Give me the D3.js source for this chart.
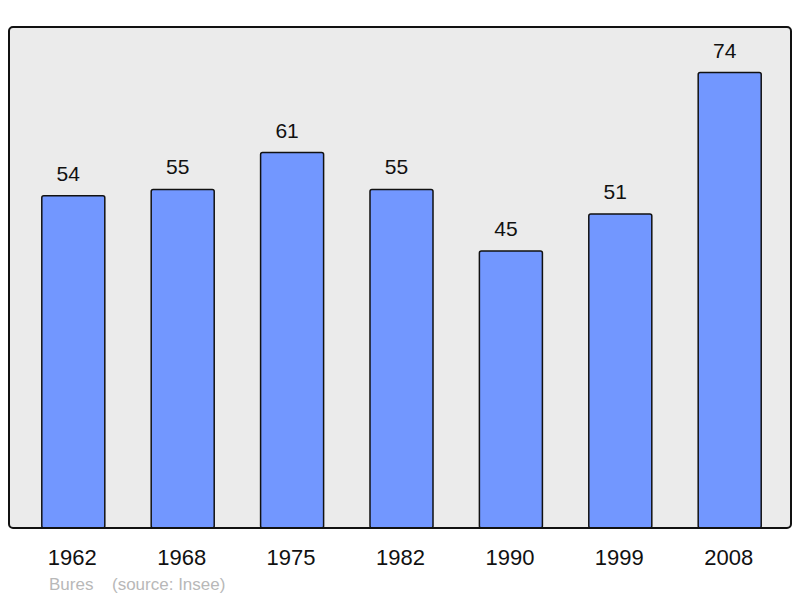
<!DOCTYPE html>
<html>
<head>
<meta charset="utf-8">
<script src="https://cdn.jsdelivr.net/npm/d3@7"></script>
<style>
  body { margin: 0; background: #fff; }
  svg { display: block; font-family: "Liberation Sans", Arial, sans-serif; }
</style>
</head>
<body>
<div id="chart"></div>
<script>
const years = ["1962", "1968", "1975", "1982", "1990", "1999", "2008"];
const population = [54, 55, 61, 55, 45, 51, 74];
const commune = "Bures";
const source = "(source: Insee)";

const width = 800;
const height = 598;
const frame = { left: 9, top: 27, right: 791, bottom: 528 };

const svg = d3
  .select("#chart")
  .append("svg")
  .attr("width", width)
  .attr("height", height);

const x = d3
  .scaleBand()
  .domain(years)
  .range([18.6, 784.4])
  .paddingInner(0.424)
  .paddingOuter(0.212);

const y = d3
  .scaleLinear()
  .domain([0, d3.max(population) * 1.1])
  .range([frame.bottom, frame.top]);

// background panel
svg
  .append("rect")
  .attr("x", frame.left)
  .attr("y", frame.top)
  .attr("width", frame.right - frame.left)
  .attr("height", frame.bottom - frame.top)
  .attr("rx", 4)
  .attr("fill", "#ebebeb");

const data = years.map((yr, i) => ({ year: yr, value: population[i] }));

svg
  .selectAll("rect.bar")
  .data(data)
  .enter()
  .append("rect")
  .attr("class", "bar")
  .attr("x", (d) => x(d.year))
  .attr("y", (d) => y(d.value))
  .attr("width", x.bandwidth())
  .attr("height", (d) => y(0) - y(d.value))
  .attr("rx", 2)
  .attr("fill", "#7297ff")
  .attr("stroke", "#111")
  .attr("stroke-width", 1.5);

// frame border drawn over bar bottoms
svg
  .append("rect")
  .attr("x", frame.left)
  .attr("y", frame.top)
  .attr("width", frame.right - frame.left)
  .attr("height", frame.bottom - frame.top)
  .attr("rx", 4)
  .attr("fill", "none")
  .attr("stroke", "#111")
  .attr("stroke-width", 2);

// value labels sit a little left of the bar centre, as in the original
svg
  .selectAll("text.value")
  .data(data)
  .enter()
  .append("text")
  .attr("class", "value")
  .attr("x", (d) => x(d.year) + x.bandwidth() / 2 - 5)
  .attr("y", (d) => y(d.value) - 15)
  .attr("text-anchor", "middle")
  .attr("font-size", 21)
  .attr("fill", "#111")
  .text((d) => d.value);

svg
  .selectAll("text.year")
  .data(years)
  .enter()
  .append("text")
  .attr("class", "year")
  .attr("x", (d) => x(d) + x.bandwidth() / 2 - 1)
  .attr("y", 564.5)
  .attr("text-anchor", "middle")
  .attr("font-size", 22)
  .attr("fill", "#111")
  .text((d) => d);

svg
  .append("text")
  .attr("x", 49)
  .attr("y", 590)
  .attr("font-size", 17)
  .attr("fill", "#b8b8b8")
  .text(commune);

svg
  .append("text")
  .attr("x", 112)
  .attr("y", 590)
  .attr("font-size", 17)
  .attr("fill", "#b8b8b8")
  .text(source);
</script>
</body>
</html>
